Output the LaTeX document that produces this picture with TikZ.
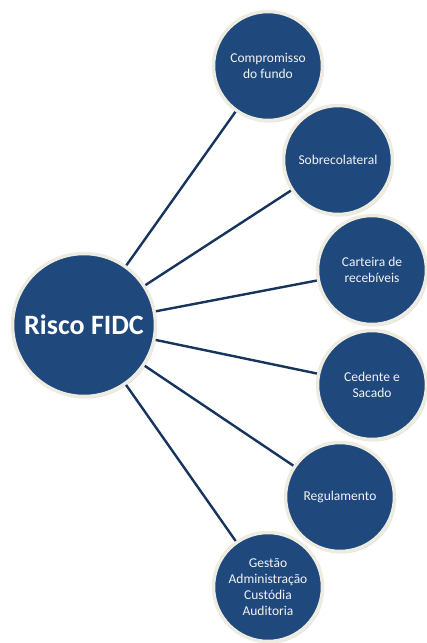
\documentclass[tikz,border=0pt]{standalone}
\usepackage{fontspec}
\setmainfont{Carlito}
\usetikzlibrary{shadows}
\definecolor{discblue}{RGB}{31,73,125}
\definecolor{discrim}{RGB}{238,236,225}
\definecolor{spoke}{RGB}{22,52,92}

\begin{document}
\begin{tikzpicture}[x=1pt, y=-1pt,
  hub/.style={circle, fill=discblue, draw=discrim, line width=3.5pt, minimum size=143pt,
    text=white, font=\fontsize{28}{30}\selectfont\bfseries,
    drop shadow={opacity=0.25, shadow xshift=1.5pt, shadow yshift=-2pt}},
  leaf/.style={circle, fill=discblue, draw=discrim, line width=3.5pt, minimum size=109pt,
    inner sep=0pt, align=center, text=white!95!black, font=\fontsize{13.5}{16}\selectfont,
    drop shadow={opacity=0.25, shadow xshift=1.5pt, shadow yshift=-2pt}}]
  \useasboundingbox (0,0) rectangle (427,643);

  \node[hub](risco) at (84,325){Risco FIDC};
  \node[leaf](compromisso) at (268,66){Compromisso\\do fundo};
  \node[leaf](sobre) at (338,160){Sobrecolateral};
  \node[leaf](carteira) at (372,270){Carteira de\\recebíveis};
  \node[leaf](cedente) at (372,385){Cedente e\\Sacado};
  \node[leaf](regulamento) at (340,497){Regulamento};
  \node[leaf](gestao) at (268,587){Gestão\\Administração\\Custódia\\Auditoria};

  \path[draw=spoke, line width=2.4pt]
  (risco) edge (compromisso)
  (risco) edge (sobre)
  (risco) edge (carteira)
  (risco) edge (cedente)
  (risco) edge (regulamento)
  (risco) edge (gestao);
\end{tikzpicture}
\end{document}
